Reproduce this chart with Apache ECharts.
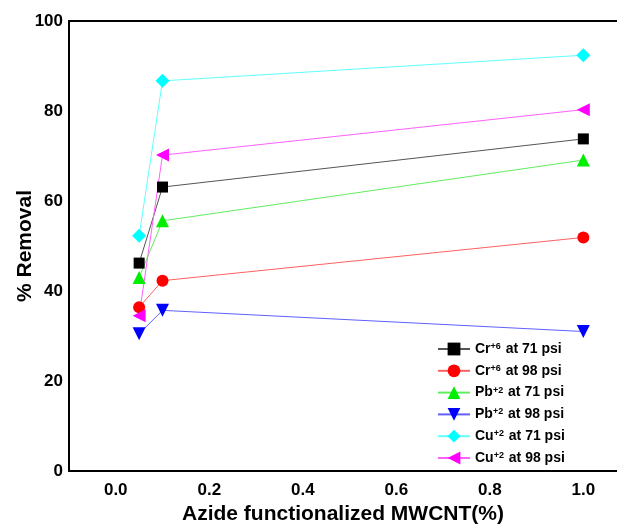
<!DOCTYPE html>
<html>
<head>
<meta charset="utf-8">
<script src="https://cdn.jsdelivr.net/npm/echarts@6/dist/echarts.min.js"></script>
<style>html,body{margin:0;padding:0;background:#fff;}#c{width:617px;height:528px;}</style>
</head>
<body>
<div id="c"></div>
<script>
const xValues = [0.05, 0.1, 1.0];
const crAt71 = [46.2, 63.1, 73.8];
const crAt98 = [36.4, 42.3, 51.9];
const pbAt71 = [43.0, 55.6, 69.1];
const pbAt98 = [30.5, 35.7, 31.0];
const cuAt71 = [52.3, 86.7, 92.4];
const cuAt98 = [34.5, 70.2, 80.3];
const seriesNames = ['Cr+6 at 71 psi','Cr+6 at 98 psi','Pb+2 at 71 psi','Pb+2 at 98 psi','Cu+2 at 71 psi','Cu+2 at 98 psi'];
const legendParts = [['Cr','+6',' at 71 psi'],['Cr','+6',' at 98 psi'],['Pb','+2',' at 71 psi'],['Pb','+2',' at 98 psi'],['Cu','+2',' at 71 psi'],['Cu','+2',' at 98 psi']];
const xTickLabels = ['0.0', '0.2', '0.4', '0.6', '0.8', '1.0'];
const yTicks = [0, 20, 40, 60, 80, 100];

const dataSets = [crAt71, crAt98, pbAt71, pbAt98, cuAt71, cuAt98];
const styles = [
  {sym:'rect', size:11, rot:0, c:'#000000', lc:'#555555'},
  {sym:'circle', size:12, rot:0, c:'#ff0000', lc:'#ff6060'},
  {sym:'triangle', size:13, rot:0, c:'#00ee00', lc:'#60ee60'},
  {sym:'triangle', size:13, rot:180, c:'#0000ff', lc:'#6060ff'},
  {sym:'diamond', size:14, rot:0, c:'#00ffff', lc:'#60ffff'},
  {sym:'triangle', size:13, rot:90, c:'#ff00ff', lc:'#ff60ff'}
];

const chart = echarts.init(document.getElementById('c'), null, {renderer:'canvas'});
const series = dataSets.map((d, i) => ({
  name: seriesNames[i],
  type: 'line',
  xAxisIndex: 0,
  data: xValues.map((x, j) => [x, d[j]]),
  symbol: styles[i].sym,
  symbolSize: styles[i].size,
  symbolRotate: styles[i].rot,
  showAllSymbol: true,
  itemStyle: {color: styles[i].c, borderWidth: 0},
  lineStyle: {color: styles[i].lc, width: 1},
  emphasis: {disabled: true},
  animation: false
}));

const lookup = {};
seriesNames.forEach((n, i) => lookup[n] = legendParts[i]);
const fmtX = v => { const s = (Math.round(v * 10) / 10).toFixed(1); return xTickLabels.includes(s) ? s : ''; };

chart.setOption({
  backgroundColor: '#ffffff',
  animation: false,
  grid: {left: 69, top: 21, right: 0, bottom: 57, show: false, containLabel: false, outerBoundsMode: 'none'},
  xAxis: [{
    type: 'value', min: -0.1, max: 1.072, interval: 0.1, position: 'bottom',
    name: 'Azide functionalized MWCNT(%)', nameLocation: 'middle', nameGap: 33,
    nameTextStyle: {fontFamily: 'Liberation Sans', fontWeight: 'bold', fontSize: 21, color: '#000'},
    axisLine: {show: true, onZero: false, lineStyle: {color: '#000', width: 2}},
    axisTick: {show: false},
    splitLine: {show: false},
    axisLabel: {
      fontFamily: 'Liberation Sans', fontWeight: 'bold', fontSize: 17, color: '#000', margin: 11,
      showMinLabel: false, showMaxLabel: false, formatter: fmtX
    }
  }, {
    type: 'value', min: -0.1, max: 1.072, interval: 0.1, position: 'top',
    axisLine: {show: true, onZero: false, lineStyle: {color: '#000', width: 2}},
    axisTick: {show: false}, axisLabel: {show: false}, splitLine: {show: false}
  }],
  yAxis: {
    type: 'value', min: 0, max: 100, interval: 20,
    name: '% Removal', nameLocation: 'middle', nameGap: 33, nameMoveOverlap: false,
    nameTextStyle: {fontFamily: 'Liberation Sans', fontWeight: 'bold', fontSize: 21, color: '#000'},
    axisLine: {show: true, onZero: false, lineStyle: {color: '#000', width: 2}},
    axisTick: {show: false},
    splitLine: {show: false},
    axisLabel: {fontFamily: 'Liberation Sans', fontWeight: 'bold', fontSize: 17, color: '#000', margin: 6,
      formatter: v => yTicks.includes(v) ? String(v) : ''}
  },
  legend: {
    orient: 'vertical', left: 432, top: 337,
    itemWidth: 32, itemHeight: 16, itemGap: 6.8,
    data: seriesNames,
    formatter: n => { const p = lookup[n]; return '{a|' + p[0] + '}{s|' + p[1] + '}{a|' + p[2] + '}'; },
    textStyle: {
      rich: {
        a: {fontFamily: 'Liberation Sans', fontWeight: 'bold', fontSize: 14, color: '#000', lineHeight: 14},
        s: {fontFamily: 'Liberation Sans', fontWeight: 'bold', fontSize: 9, color: '#000', lineHeight: 14, verticalAlign: 'top', padding: [0, 1, 6, 0]}
      }
    }
  },
  series: series
});
</script>
</body>
</html>
